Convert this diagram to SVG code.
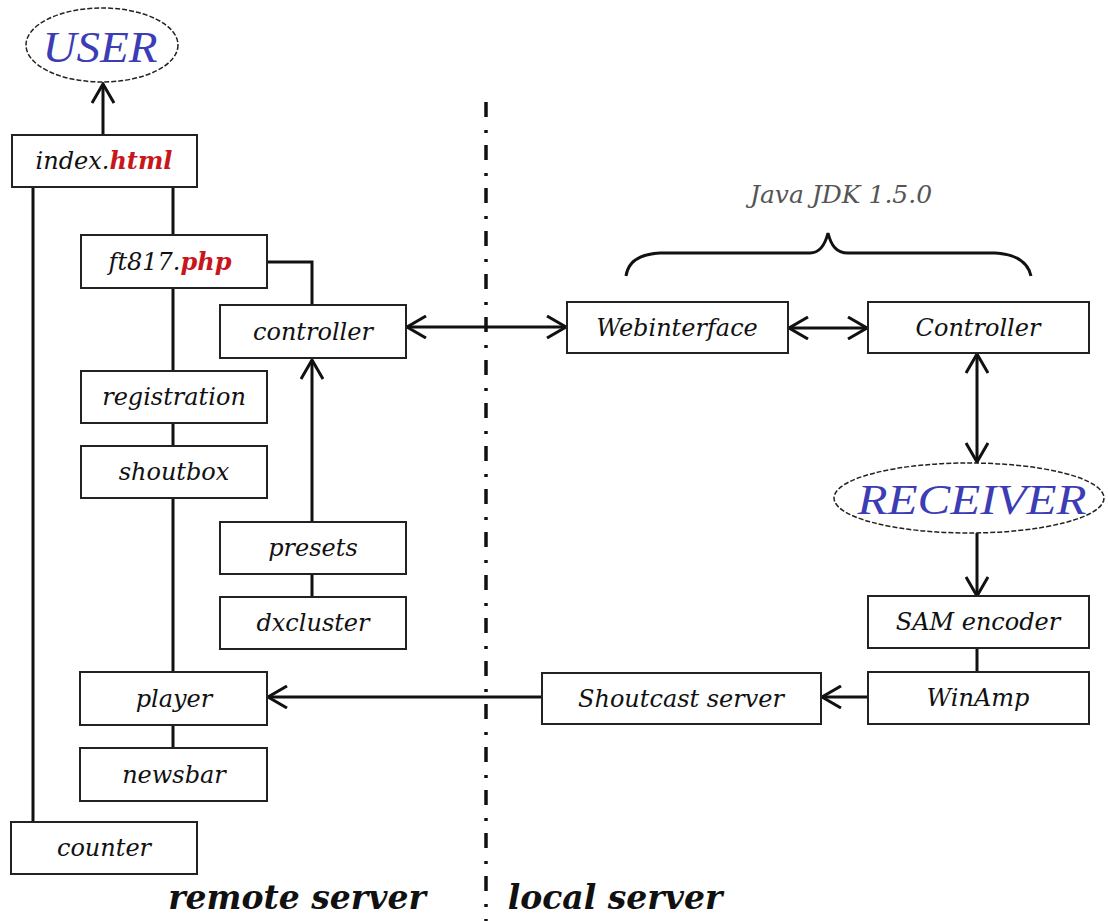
<svg xmlns="http://www.w3.org/2000/svg" width="1108" height="921" viewBox="0 0 1108 921">
<style>
.box{fill:#fff;stroke:#222;stroke-width:2}
.lbl{font-family:"DejaVu Serif",serif;font-style:italic;font-size:24px;fill:#111;text-anchor:middle}
.red{fill:#c8161d;font-weight:bold}
.ell{fill:#fff;stroke:#222;stroke-width:1.5;stroke-dasharray:5 2}
.big{font-family:"Liberation Serif",serif;font-style:italic;fill:#3c3cb4;text-anchor:middle}
.ln{fill:none;stroke:#111;stroke-width:3}
.srv{font-family:"DejaVu Serif",serif;font-style:italic;font-weight:bold;font-size:33px;fill:#111;text-anchor:middle}
</style>
<defs>
<marker id="arr" viewBox="0 0 24 24" refX="21" refY="12" markerWidth="24" markerHeight="24" markerUnits="userSpaceOnUse" orient="auto-start-reverse">
<path d="M2,1 L21,12 L2,23" fill="none" stroke="#111" stroke-width="3"/>
</marker>
</defs>
<rect width="1108" height="921" fill="#fff"/>

<line x1="486" y1="102" x2="486" y2="921" stroke="#111" stroke-width="3.5" stroke-dasharray="15 13 3 12"/>

<g id="connectors">
<line class="ln" x1="103" y1="135" x2="103" y2="84" marker-end="url(#arr)"/>
<line class="ln" x1="33" y1="187" x2="33" y2="822"/>
<line class="ln" x1="173" y1="187" x2="173" y2="235"/>
<line class="ln" x1="173" y1="288" x2="173" y2="371"/>
<line class="ln" x1="173" y1="423" x2="173" y2="446"/>
<line class="ln" x1="173" y1="498" x2="173" y2="672"/>
<line class="ln" x1="173" y1="725" x2="173" y2="748"/>
<polyline class="ln" points="267,262 312,262 312,305"/>
<line class="ln" x1="312" y1="522" x2="312" y2="360" marker-end="url(#arr)"/>
<line class="ln" x1="312" y1="574" x2="312" y2="597"/>
<line class="ln" x1="407" y1="327" x2="566" y2="327" marker-start="url(#arr)" marker-end="url(#arr)"/>
<line class="ln" x1="789" y1="328" x2="867" y2="328" marker-start="url(#arr)" marker-end="url(#arr)"/>
<line class="ln" x1="977" y1="354" x2="977" y2="462" marker-start="url(#arr)" marker-end="url(#arr)"/>
<line class="ln" x1="977" y1="533" x2="977" y2="596" marker-end="url(#arr)"/>
<line class="ln" x1="977" y1="649" x2="977" y2="672"/>
<line class="ln" x1="868" y1="697" x2="822" y2="697" marker-end="url(#arr)"/>
<line class="ln" x1="542" y1="697" x2="268" y2="697" marker-end="url(#arr)"/>
</g>

<g id="brace">
<path d="M626,276 C628,262 640,254 660,253 L810,253 C820,253 825,245 828,233 C831,245 836,253 848,253 L995,253 C1015,254 1028,262 1031,276" fill="none" stroke="#111" stroke-width="3"/>
<text x="841" y="203" font-family="DejaVu Serif, serif" font-style="italic" font-size="25" fill="#555" text-anchor="middle">Java JDK 1.5.0</text>
</g>

<g id="user">
<ellipse class="ell" cx="102" cy="45" rx="76" ry="37"/>
<text class="big" x="100" y="62" font-size="44" textLength="115" lengthAdjust="spacingAndGlyphs">USER</text>
</g>
<g id="index"><rect class="box" x="12" y="135" width="185" height="52"/><text class="lbl" x="104" y="169">index.<tspan class="red">html</tspan></text></g>
<g id="ft817"><rect class="box" x="81" y="235" width="186" height="53"/><text class="lbl" x="170" y="270">ft817.<tspan class="red">php</tspan></text></g>
<g id="controller"><rect class="box" x="220" y="305" width="186" height="53"/><text class="lbl" x="313" y="340">controller</text></g>
<g id="registration"><rect class="box" x="81" y="371" width="186" height="52"/><text class="lbl" x="174" y="405">registration</text></g>
<g id="shoutbox"><rect class="box" x="81" y="446" width="186" height="52"/><text class="lbl" x="174" y="480">shoutbox</text></g>
<g id="presets"><rect class="box" x="220" y="522" width="186" height="52"/><text class="lbl" x="313" y="556">presets</text></g>
<g id="dxcluster"><rect class="box" x="220" y="597" width="186" height="52"/><text class="lbl" x="313" y="631">dxcluster</text></g>
<g id="player"><rect class="box" x="80" y="672" width="187" height="53"/><text class="lbl" x="174" y="707">player</text></g>
<g id="newsbar"><rect class="box" x="80" y="748" width="187" height="53"/><text class="lbl" x="174" y="783">newsbar</text></g>
<g id="counter"><rect class="box" x="11" y="822" width="186" height="52"/><text class="lbl" x="104" y="856">counter</text></g>

<g id="webinterface"><rect class="box" x="567" y="302" width="221" height="51"/><text class="lbl" x="677" y="336">Webinterface</text></g>
<g id="controller2"><rect class="box" x="868" y="302" width="221" height="51"/><text class="lbl" x="978" y="336">Controller</text></g>
<g id="receiver">
<ellipse class="ell" cx="969" cy="498" rx="135" ry="35"/>
<text class="big" x="972" y="514" font-size="42" textLength="229" lengthAdjust="spacingAndGlyphs">RECEIVER</text>
</g>
<g id="samencoder"><rect class="box" x="868" y="596" width="221" height="52"/><text class="lbl" x="978" y="630">SAM encoder</text></g>
<g id="winamp"><rect class="box" x="868" y="672" width="221" height="52"/><text class="lbl" x="978" y="706">WinAmp</text></g>
<g id="shoutcast"><rect class="box" x="542" y="673" width="279" height="51"/><text class="lbl" x="681" y="707">Shoutcast server</text></g>

<text class="srv" x="297" y="909">remote server</text>
<text class="srv" x="615" y="909">local server</text>
</svg>
